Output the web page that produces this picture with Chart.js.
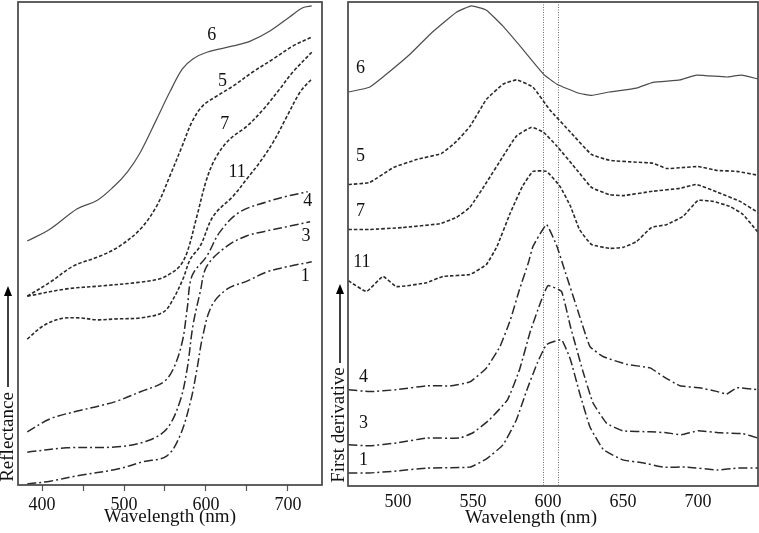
<!DOCTYPE html>
<html><head><meta charset="utf-8">
<script src="https://cdn.jsdelivr.net/npm/chart.js@4"></script>
<style>
html,body{margin:0;padding:0;background:#fff;overflow:hidden}
#a{position:absolute;left:0;top:0;width:325px;height:533px}
#b{position:absolute;left:325px;top:0;width:434px;height:533px}
</style></head><body>
<canvas id="a" width="325" height="533"></canvas>
<canvas id="b" width="434" height="533"></canvas>
<script>
// ---------- DATA (relative units, 0-100) ----------
const curveIds = ['6', '5', '7', '11', '4', '3', '1'];
const curveStyle = { '6': 'solid', '5': 'dash', '7': 'dash', '11': 'dash', '4': 'dashdot', '3': 'dashdot', '1': 'dashdot' };

// Tick positions (nm)
const leftTickMarks = [400, 450, 500, 550, 600, 650, 700];
const leftTickLabels = [400, 500, 600, 700];
const rightTickMarks = [500, 550, 600, 650, 700];
const rightTickLabels = [500, 550, 600, 650, 700];

// Left panel: reflectance vs wavelength (nm)
const refl6_wl = [382,410,443,467,487,504,520,540,556,571,584,601,633,654,678,702,718,729];
const refl6    = [50.5,53.0,57.2,58.9,61.7,64.8,68.9,75.8,81.4,86.1,88.2,89.6,90.9,91.9,94.0,96.9,98.8,99.2];
const refl5_wl = [382,410,438,471,495,520,540,556,571,583,596,613,633,657,682,706,730];
const refl5    = [39.1,42.0,45.3,47.4,49.5,53.0,57.8,64.0,70.2,75.2,78.5,80.5,82.6,85.5,88.2,90.9,92.8];
const refl7_wl = [382,430,471,520,544,556,568,577,589,601,613,629,650,670,690,706,729];
const refl7    = [39.1,40.6,41.2,42.0,42.7,43.7,45.3,48.2,55.7,63.4,68.1,71.6,74.3,77.8,82.0,85.5,89.6];
const refl11_wl = [382,401,422,446,467,492,520,548,560,572,581,593,609,633,650,666,682,699,715,729];
const refl11    = [30.2,32.9,34.4,34.6,34.2,34.4,34.6,35.8,38.5,42.7,46.8,49.5,55.7,59.8,63.4,66.9,71.0,76.4,81.4,84.1];
const refl4_wl = [382,410,443,471,492,520,548,560,571,577,583,601,617,641,674,699,724];
const refl4    = [11.0,13.7,15.3,16.4,17.4,19.3,21.3,24.0,29.6,36.4,43.3,47.4,52.4,56.5,58.6,59.8,60.7];
const refl3_wl = [382,430,492,528,552,568,577,584,593,601,626,650,674,702,727];
const refl3    = [6.8,7.7,7.9,9.1,11.6,17.2,24.0,32.9,40.0,45.3,49.5,51.6,52.6,53.6,54.5];
const refl1_wl = [382,410,443,492,523,552,568,581,589,596,607,626,650,674,702,729];
const refl1    = [0.2,0.8,1.9,3.3,4.8,6.0,10.1,17.2,24.0,30.8,37.1,40.6,42.2,44.1,45.3,46.2];

// Right panel: first derivative vs wavelength (nm)
const deriv6_wl = [467,481,490,508,523,539,549,559,570,583,597,606,620,629,641,659,670,688,699,719,729,740];
const deriv6    = [81.4,82.4,84.5,89.2,93.8,97.9,99.2,98.3,95.0,90.3,85.1,83.0,81.2,80.7,81.4,82.2,83.4,83.9,84.9,84.5,84.9,84.1];
const deriv5_wl = [467,481,497,513,529,539,548,559,570,579,590,601,615,629,641,659,670,679,690,700,713,726,740];
const deriv5    = [62.3,62.7,65.8,67.5,68.7,71.2,74.3,79.9,83.0,83.9,82.4,77.8,73.1,68.5,67.3,66.9,66.7,65.6,65.8,66.0,65.2,65.0,64.2];
const deriv7_wl = [467,481,503,528,539,548,559,570,579,589,597,606,619,629,641,650,670,688,699,713,728,740];
const deriv7    = [53.0,53.0,53.4,54.2,55.5,57.6,62.7,68.1,72.3,74.1,73.1,70.2,65.4,61.7,60.2,60.0,60.9,61.5,62.3,60.7,58.8,56.5];
const deriv11_wl = [467,479,490,499,519,530,548,559,566,575,583,590,599,608,615,621,629,641,650,659,669,679,690,700,710,721,730,740];
const deriv11    = [42.4,40.2,43.3,41.2,42.0,43.3,43.7,45.8,49.5,56.5,61.9,65.0,65.0,61.9,57.8,53.0,49.9,49.1,49.3,50.5,53.4,54.0,55.7,59.0,58.8,57.8,56.1,52.4];
const deriv4_wl = [467,481,499,519,535,548,559,568,575,581,587,590,599,606,611,619,628,637,653,668,677,688,701,713,719,726,740];
const deriv4    = [19.9,19.5,19.9,20.7,20.7,21.5,24.4,28.8,34.4,40.6,46.2,49.5,54.0,49.5,44.7,37.1,28.8,26.7,25.1,24.4,22.6,20.7,20.3,19.5,19.0,20.3,19.9];
const deriv3_wl = [467,481,499,519,541,550,561,573,581,588,595,600,609,615,623,630,639,650,668,679,689,700,715,730,740];
const deriv3    = [8.5,8.3,8.9,9.9,9.9,11.0,13.7,17.8,24.0,31.7,37.9,41.4,40.2,32.9,24.0,17.2,13.0,11.4,11.2,11.0,10.6,11.4,11.0,10.8,9.9];
const deriv1_wl = [467,481,499,519,548,559,570,579,586,593,599,609,615,621,628,637,650,663,677,693,713,726,740];
const deriv1    = [2.7,2.7,3.1,3.7,3.9,5.6,8.5,13.7,19.9,25.5,29.2,30.2,26.1,19.3,12.2,7.5,5.4,4.8,3.9,3.9,3.3,3.7,3.7];

// Reference wavelengths marked with dotted lines (nm)
const markerWl = [597, 606.5];

// Curve label anchors (wavelength, value)
const leftLabelWl  = [607, 620, 623, 638, 724, 722, 721];
const leftLabelVal = [93.2, 83.6, 74.7, 64.8, 58.8, 51.6, 43.3];
const rightLabelWl  = [475, 475, 475, 476, 477, 477, 477];
const rightLabelVal = [86.3, 68.1, 56.7, 46.2, 22.4, 13.0, 5.4];

const leftWl  = [refl6_wl, refl5_wl, refl7_wl, refl11_wl, refl4_wl, refl3_wl, refl1_wl];
const leftVal = [refl6, refl5, refl7, refl11, refl4, refl3, refl1];
const rightWl  = [deriv6_wl, deriv5_wl, deriv7_wl, deriv11_wl, deriv4_wl, deriv3_wl, deriv1_wl];
const rightVal = [deriv6, deriv5, deriv7, deriv11, deriv4, deriv3, deriv1];

// ---------- STYLE ----------
const SERIF = '"Liberation Serif", "Times New Roman", serif';
const TEXT = '#111';
const STYLES = {
  solid:   { color: '#4d4d4d', width: 1.2, dash: [] },
  dash:    { color: '#2a2a2a', width: 1.6, dash: [3.5, 2] },
  dashdot: { color: '#2a2a2a', width: 1.5, dash: [9, 3, 2, 3] }
};

function buildDatasets(wls, vals, tension) {
  return curveIds.map((id, i) => {
    const s = STYLES[curveStyle[id]];
    return {
      label: id,
      data: wls[i].map((x, j) => ({ x: x, y: vals[i][j] })),
      borderColor: s.color, borderWidth: s.width, borderDash: s.dash,
      pointRadius: 0, fill: false, tension: tension
    };
  });
}

const framePlugin = {
  id: 'frame',
  afterDraw(chart) {
    const { ctx, chartArea: a } = chart;
    ctx.save();
    ctx.strokeStyle = '#454545'; ctx.lineWidth = 1.7;
    ctx.strokeRect(a.left, a.top, a.right - a.left, a.bottom - a.top);
    ctx.restore();
  }
};

const curveLabelPlugin = {
  id: 'curveLabels',
  afterDatasetsDraw(chart, args, opts) {
    const { ctx, scales } = chart;
    ctx.save();
    ctx.fillStyle = TEXT;
    ctx.font = '18px ' + SERIF;
    ctx.textAlign = 'center'; ctx.textBaseline = 'middle';
    opts.ids.forEach((t, i) => {
      ctx.fillText(t, scales.x.getPixelForValue(opts.wl[i]), scales.y.getPixelForValue(opts.val[i]));
    });
    ctx.restore();
  }
};

const titlesPlugin = {
  id: 'titles',
  afterDraw(chart, args, o) {
    const ctx = chart.ctx;
    ctx.save();
    ctx.fillStyle = TEXT;
    ctx.font = '19px ' + SERIF;
    ctx.textAlign = 'center'; ctx.textBaseline = 'middle';
    ctx.fillText(o.xText, o.xcx, o.xcy);
    ctx.restore();
    ctx.save();
    ctx.fillStyle = TEXT;
    ctx.translate(o.x, o.cy);
    ctx.rotate(-Math.PI / 2);
    ctx.font = '19px ' + SERIF;
    ctx.textAlign = 'center'; ctx.textBaseline = 'middle';
    ctx.fillText(o.text, 0, 0);
    ctx.restore();
    ctx.save();
    ctx.strokeStyle = '#000'; ctx.fillStyle = '#000'; ctx.lineWidth = 1.5;
    ctx.beginPath(); ctx.moveTo(o.ax, o.a0); ctx.lineTo(o.ax, o.a1 + 8); ctx.stroke();
    ctx.beginPath(); ctx.moveTo(o.ax, o.a1); ctx.lineTo(o.ax - 4, o.a1 + 10); ctx.lineTo(o.ax + 4, o.a1 + 10); ctx.closePath(); ctx.fill();
    ctx.restore();
  }
};

const markerPlugin = {
  id: 'markers',
  beforeDatasetsDraw(chart, args, opts) {
    const { ctx, chartArea: a, scales } = chart;
    ctx.save();
    ctx.strokeStyle = '#6a6a6a'; ctx.lineWidth = 1; ctx.setLineDash([1, 1.5]);
    opts.wl.forEach(w => {
      const x = Math.round(scales.x.getPixelForValue(w)) + 0.5;
      ctx.beginPath(); ctx.moveTo(x, a.top); ctx.lineTo(x, a.bottom); ctx.stroke();
    });
    ctx.restore();
  }
};

function xAxis(min, max, marks, labels, drawTicks, tickPad, axisH) {
  return {
    type: 'linear', min: min, max: max,
    afterBuildTicks: s => { s.ticks = marks.map(v => ({ value: v })); },
    afterFit: s => { s.height = axisH; },
    border: { display: false },
    grid: { drawOnChartArea: false, drawTicks: drawTicks, tickLength: 6, color: '#555', tickWidth: 1.2 },
    ticks: {
      maxRotation: 0, minRotation: 0, autoSkip: false, padding: tickPad,
      color: TEXT, font: { family: SERIF, size: 18 },
      callback: v => (labels.indexOf(v) >= 0 ? String(v) : '')
    },
    title: { display: false }
  };
}
function yAxis(w) {
  return { min: 0, max: 100, afterFit: s => { s.width = w; },
           border: { display: false }, grid: { display: false }, ticks: { display: false } };
}

new Chart(document.getElementById('a'), {
  type: 'line',
  data: { datasets: buildDatasets(leftWl, leftVal, 0.35) },
  options: {
    responsive: false, animation: false, devicePixelRatio: 1,
    layout: { padding: { left: 0, top: 2, right: 3, bottom: 0 } },
    scales: { x: xAxis(370.7, 741.5, leftTickMarks, leftTickLabels, true, 3, 48), y: yAxis(18) },
    plugins: {
      legend: { display: false }, tooltip: { enabled: false },
      curveLabels: { ids: curveIds, wl: leftLabelWl, val: leftLabelVal },
      titles: { xText: 'Wavelength (nm)', xcx: 170, xcy: 517,
                text: 'Reflectance', x: 8, cy: 437, ax: 8, a0: 387, a1: 286 }
    }
  },
  plugins: [framePlugin, curveLabelPlugin, titlesPlugin]
});

new Chart(document.getElementById('b'), {
  type: 'line',
  data: { datasets: buildDatasets(rightWl, rightVal, 0.12) },
  options: {
    responsive: false, animation: false, devicePixelRatio: 1,
    layout: { padding: { left: 0, top: 2, right: 1, bottom: 0 } },
    scales: { x: xAxis(466.7, 740, rightTickMarks, rightTickLabels, false, 5, 47), y: yAxis(23) },
    plugins: {
      legend: { display: false }, tooltip: { enabled: false },
      curveLabels: { ids: curveIds, wl: rightLabelWl, val: rightLabelVal },
      markers: { wl: markerWl },
      titles: { xText: 'Wavelength (nm)', xcx: 206, xcy: 518,
                text: 'First derivative', x: 14, cy: 425, ax: 15, a0: 363, a1: 284 }
    }
  },
  plugins: [framePlugin, curveLabelPlugin, titlesPlugin, markerPlugin]
});
</script></body></html>
